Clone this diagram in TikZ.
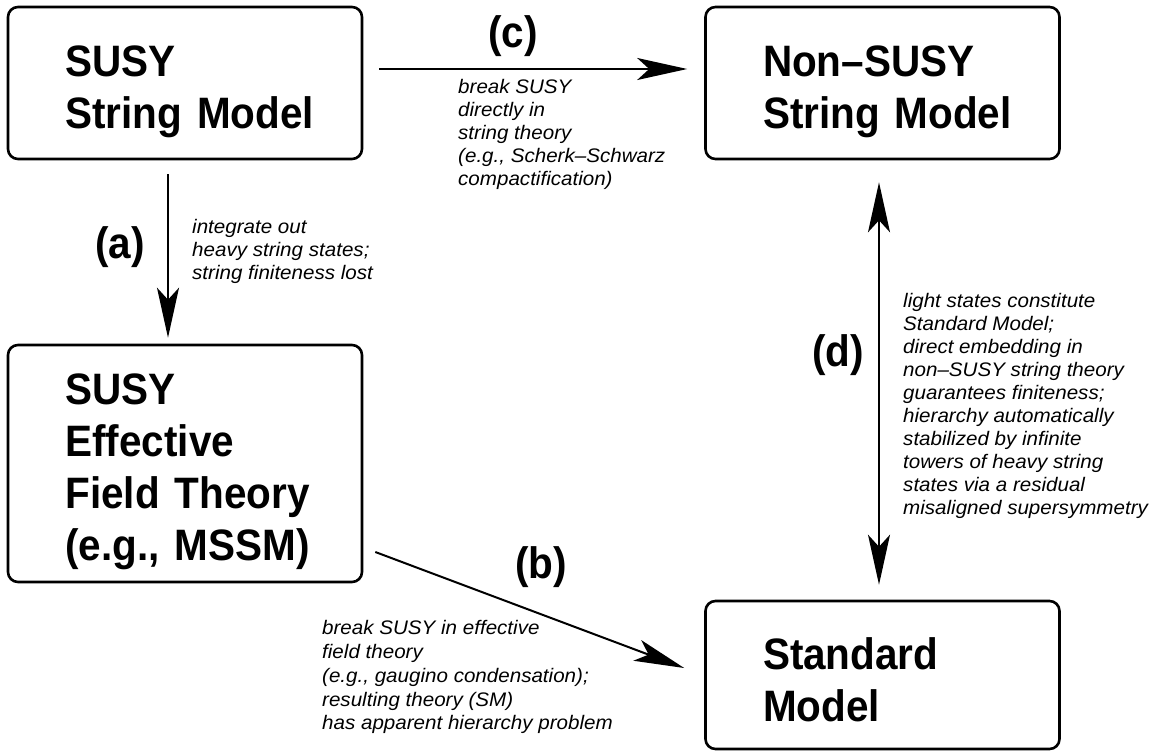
\documentclass[tikz,border=0pt]{standalone}
\usepackage{fontspec}
\setmainfont{Liberation Sans}
\newfontfamily\boxfont{Liberation Sans}[FakeStretch=0.92]
\newfontfamily\notefont{Liberation Sans}[FakeStretch=1.05]
\usetikzlibrary{arrows.meta}
\newcommand\boxtop[1]{\rule{0pt}{#1}}
\begin{document}
\begin{tikzpicture}[x=1pt,y=-1pt,
  box/.style={draw, line width=2.6pt, rounded corners=10pt, minimum width=354pt,
    align=left, text width=239pt, inner xsep=57.5pt, inner ysep=0pt,
    font=\boxfont\bfseries\fontsize{44}{52}\selectfont},
  lab/.style={font=\boxfont\bfseries\fontsize{44}{52}\selectfont, inner sep=0pt, anchor=base},
  note/.style={font=\notefont\itshape\fontsize{19.6}{23}\selectfont, align=left, inner sep=0pt, anchor=north west},
  tipb/.tip={Stealth[length=50pt,width=22pt,inset=12pt]},
  arr/.style={line width=2pt, -tipb},
  darr/.style={line width=2pt, tipb-tipb},
]
\useasboundingbox (0,0) rectangle (1154,752);

\node[box, minimum height=152pt] (b1) at (185,83) {\boxtop{48pt}SUSY\\\mbox{String Model}};
\node[box, minimum width=353pt, minimum height=152pt] (b2) at (882.5,83) {\boxtop{48pt}Non–SUSY\\\mbox{String Model}};
\node[box, minimum height=237pt] (b3) at (185,463.5) {\boxtop{48pt}SUSY\\Effective\\\mbox{Field Theory}\\\mbox{(e.g., MSSM)}};
\node[box, minimum width=353pt, minimum height=148pt] (b4) at (882.5,675) {\boxtop{42pt}Standard\\Model};

\coordinate (ax) at (168,0);
\coordinate (cy) at (0,69);
\coordinate (dx) at (879,0);
\coordinate (bsy) at (0,552);
\coordinate (bey) at (0,668);

\draw[arr, shorten <=14pt, shorten >=6pt] (b1.south -| ax) -- (b3.north -| ax);
\draw[arr, shorten <=16pt, shorten >=17pt] (b1.east |- cy) -- (b2.west |- cy);
\draw[darr, shorten <=22pt, shorten >=15pt] (b2.south -| dx) -- (b4.north -| dx);
\draw[arr] ([xshift=12pt]b3.east |- bsy) -- ([xshift=-20pt]b4.west |- bey);

\node[lab] (la) at (120,258) {(a)};
\node[lab] (lc) at (513,48) {(c)};
\node[lab] (lb) at (541,578) {(b)};
\node[lab] (ld) at (838,366) {(d)};

\node[note] (na) at (192,219.3) {integrate out\\heavy string states;\\string finiteness lost};
\node[note] (nc) at (458,78.8) {break SUSY\\directly in\\string theory\\(e.g., Scherk–Schwarz\\compactification)};
\node[note] (nd) at (903,293) {light states constitute\\Standard Model;\\direct embedding in\\non–SUSY string theory\\guarantees finiteness;\\hierarchy automatically\\stabilized by infinite\\towers of heavy string\\states via a residual\\misaligned supersymmetry};
\node[note, font=\notefont\itshape\fontsize{19.6}{23.75}\selectfont] (nb) at (322,620.5) {break SUSY in effective\\field theory\\(e.g., gaugino condensation);\\resulting theory (SM)\\has apparent hierarchy problem};
\end{tikzpicture}
\end{document}
